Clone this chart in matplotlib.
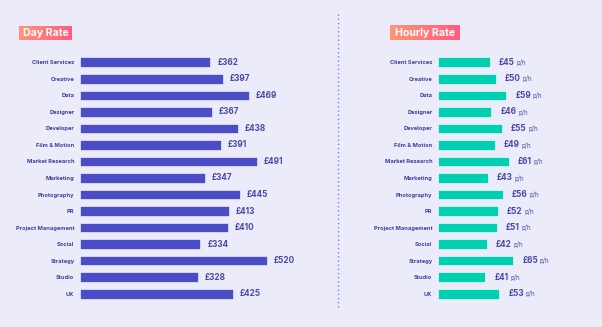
import numpy as np
import matplotlib.pyplot as plt
from matplotlib.colors import LinearSegmentedColormap

plt.rcParams['font.family'] = ['Inter', 'DejaVu Sans']

roles = ['Client Services', 'Creative', 'Data', 'Designer', 'Developer',
         'Film & Motion', 'Market Research', 'Marketing', 'Photography', 'PR',
         'Project Management', 'Social', 'Strategy', 'Studio', 'UX']
day_rate = [362, 397, 469, 367, 438, 391, 491, 347, 445, 413, 410, 334, 520, 328, 425]
hourly_rate = [45, 50, 59, 46, 55, 49, 61, 43, 56, 52, 51, 42, 65, 41, 53]

bg = '#ecebf9'
label_col = '#3f3f9c'
value_col = '#4a4aa6'
day_col = '#4a4dc6'
hour_col = '#00d0b1'

W, H = 602, 327
fig = plt.figure(figsize=(W / 100, H / 100), dpi=100, facecolor=bg)


def px_axes(x0, y0, x1, y1):
    # axes placed by pixel box (top-left origin)
    return fig.add_axes([x0 / W, 1 - y1 / H, (x1 - x0) / W, (y1 - y0) / H])


def draw_panel(ax, values, color, xmax, suffix, gap):
    y = np.arange(len(roles))
    ax.barh(y, values, height=0.58, color=color, edgecolor='white', linewidth=0.4)
    ax.set_xlim(0, xmax)
    ax.set_ylim(len(roles) - 0.5, -0.5)
    ax.set_facecolor('none')
    for s in ax.spines.values():
        s.set_visible(False)
    ax.set_xticks([])
    ax.set_yticks(y)
    ax.set_yticklabels(roles, fontsize=4.1, fontweight='bold', color=label_col)
    ax.tick_params(axis='y', length=0, pad=4)
    for yi, v in zip(y, values):
        t = ax.annotate('£{}'.format(v), xy=(v, yi), xytext=(gap, 0),
                        textcoords='offset points', va='center', ha='left',
                        fontsize=5.9, fontweight='bold', color=value_col)
        if suffix:
            ax.annotate(suffix, xy=(1, 0.5), xycoords=t, xytext=(1.3, -0.3),
                        textcoords='offset points', va='center', ha='left',
                        fontsize=4.4, color=value_col)


ax1 = px_axes(80, 54, 300, 302)
draw_panel(ax1, day_rate, day_col, 220 / 0.36, None, 5)

ax2 = px_axes(438, 54, 580, 302)
draw_panel(ax2, hourly_rate, hour_col, 142 / 1.156, 'p/h', 6.5)

# overlay for the headings and divider
ov = fig.add_axes([0, 0, 1, 1])
ov.set_xlim(0, W)
ov.set_ylim(H, 0)
ov.axis('off')
ov.patch.set_alpha(0)

grad = LinearSegmentedColormap.from_list('hdr', ['#ff9478', '#ff5c80'])
ramp = np.linspace(0, 1, 100).reshape(1, -1)
for (x0, x1, y0, y1), title in [((19, 72, 26, 40), 'Day Rate'),
                                ((390, 460, 25, 40), 'Hourly Rate')]:
    ov.imshow(ramp, cmap=grad, extent=(x0, x1, y1, y0), aspect='auto', zorder=2)
    ov.text((x0 + x1) / 2, (y0 + y1) / 2 + 0.5, title, color='white', fontsize=7.6,
            fontweight='bold', ha='center', va='center', zorder=3)

ov.plot([338, 338], [14, 307], color='#7b7fe0', linestyle=(0, (1, 2)), linewidth=1)
ov.set_xlim(0, W)
ov.set_ylim(H, 0)

fig.savefig('out.png', dpi=100, facecolor=bg)
